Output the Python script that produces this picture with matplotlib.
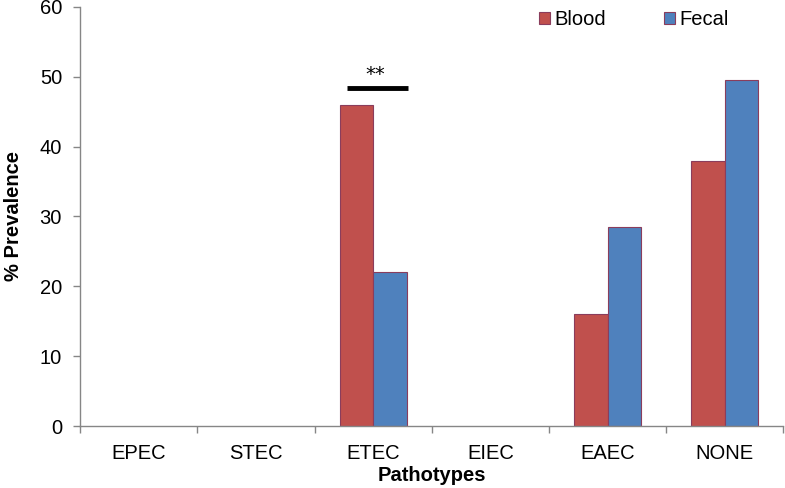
import matplotlib.pyplot as plt
import numpy as np

plt.rcParams['font.family'] = ['Liberation Sans', 'DejaVu Sans']

categories = ['EPEC', 'STEC', 'ETEC', 'EIEC', 'EAEC', 'NONE']
blood = [0, 0, 46, 0, 16, 38]
fecal = [0, 0, 22, 0, 28.5, 49.5]
series_names = ['Blood', 'Fecal']

# significance bar over ETEC
sig_x = [2 - 0.22, 2 + 0.30]
sig_y = 48.4
sig_text = '**'

fig = plt.figure(figsize=(7.85, 4.88), dpi=100)
ax = fig.add_axes([0.102, 0.127, 0.896, 0.859])

x = np.arange(len(categories))
w = 0.285
edge = '#8A3D5C'
# empty categories draw no bar at all
b = np.where(np.array(blood) > 0, blood, np.nan)
f = np.where(np.array(fecal) > 0, fecal, np.nan)
ax.bar(x - w / 2, b, w, color='#C0504D', edgecolor=edge, linewidth=0.8,
       label=series_names[0])
ax.bar(x + w / 2, f, w, color='#4F81BD', edgecolor=edge, linewidth=0.8,
       label=series_names[1])

ax.plot(sig_x, [sig_y, sig_y], color='black', lw=3.5, solid_capstyle='butt')
ax.text(np.mean(sig_x) - 0.02, sig_y + 0.5, sig_text, ha='center', va='bottom',
        fontsize=14, family='DejaVu Sans')

ax.set_xlim(-0.5, len(categories) - 0.5)
ax.set_ylim(0, 60)
ax.set_yticks(range(0, 61, 10))
ax.set_xticks(x)
ax.set_xticklabels(categories)
ax.set_xticks(np.arange(-0.5, len(categories), 1), minor=True)
ax.tick_params(axis='x', which='major', length=0, pad=13, labelsize=14.5)
ax.tick_params(axis='x', which='minor', length=5, color='#868686', width=1)
ax.tick_params(axis='y', length=5, color='#868686', width=1, labelsize=14.5, pad=8)

for s in ['top', 'right']:
    ax.spines[s].set_visible(False)
for s in ['left', 'bottom']:
    ax.spines[s].set_color('#868686')
    ax.spines[s].set_linewidth(1)

ax.set_xlabel('Pathotypes', fontweight='bold', fontsize=14.5, labelpad=2)
ax.set_ylabel('% Prevalence', fontweight='bold', fontsize=14.5, labelpad=12)

ax.legend(loc='upper right', bbox_to_anchor=(0.948, 1.035), ncol=2, frameon=False,
          fontsize=14.5, handlelength=0.55, handleheight=0.55, handletextpad=0.2,
          columnspacing=2.9)

fig.savefig('out.png', dpi=100)
